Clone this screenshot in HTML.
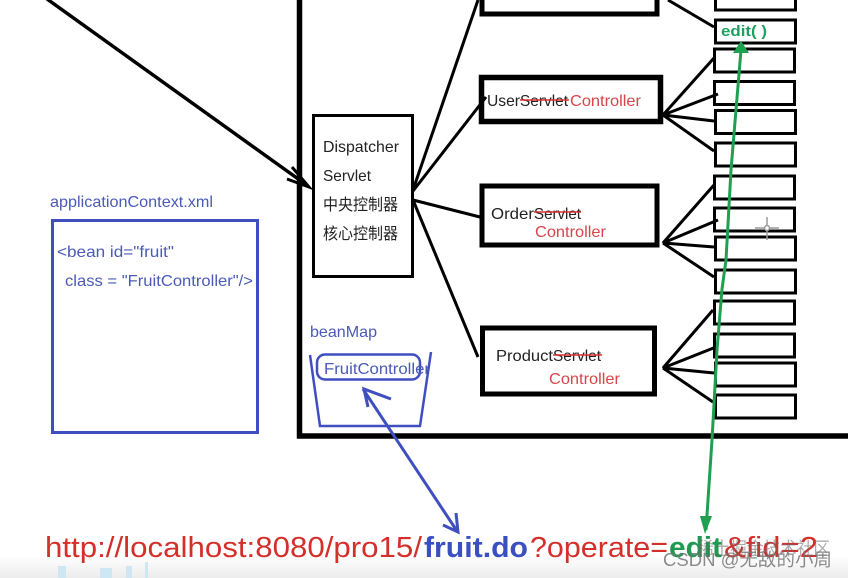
<!DOCTYPE html>
<html><head><meta charset="utf-8"><style>
html,body{margin:0;padding:0;background:#fff}
svg{display:block;filter:blur(.35px)}
text{font-family:"Liberation Sans","Noto Sans CJK SC",sans-serif}
</style></head><body>
<svg width="848" height="578" viewBox="0 0 848 578" xmlns="http://www.w3.org/2000/svg">
<defs><linearGradient id="g" x1="0" y1="0" x2="0" y2="1"><stop offset="0" stop-color="#fff"/><stop offset="1" stop-color="#ececec"/></linearGradient></defs>
<rect width="848" height="578" fill="#fff"/>
<rect y="555" width="848" height="23" fill="url(#g)"/>
<g fill="#cfe7f3"><rect x="58" y="566" width="8" height="12"/><rect x="100" y="568" width="12" height="10"/><rect x="126" y="566" width="6" height="12"/><rect x="145" y="562" width="3" height="16"/></g>

<!-- frame -->
<g stroke="#000" fill="none">
<path d="M299.500 0V436H848" stroke-width="5.500"/>
<rect x="313.500" y="115.500" width="99" height="161" stroke-width="3"/>
<rect x="482" y="-10" width="175" height="24" stroke-width="5"/>
<rect x="481.500" y="77.500" width="179" height="44" stroke-width="5.500"/>
<rect x="482" y="186" width="175" height="59" stroke-width="5"/>
<rect x="482.500" y="328" width="172" height="66" stroke-width="5"/>
<g stroke-width="3">
<rect x="715.500" y="-10" width="80" height="20"/>
<rect x="715.500" y="20" width="80" height="23"/>
<rect x="714.500" y="49" width="80" height="23"/>
<rect x="714.500" y="81.500" width="80" height="23"/>
<rect x="715.500" y="110.500" width="80" height="23"/>
<rect x="715.500" y="143" width="80" height="23"/>
<rect x="714.500" y="176" width="80" height="23"/>
<rect x="714.500" y="208" width="80" height="23"/>
<rect x="715.500" y="237" width="80" height="23"/>
<rect x="715.500" y="270" width="80" height="23"/>
<rect x="714.500" y="301" width="80" height="23"/>
<rect x="714.500" y="334" width="80" height="23"/>
<rect x="715.500" y="363" width="80" height="23"/>
<rect x="715.500" y="395" width="80" height="23"/>
</g>
<!-- incoming arrow -->
<path d="M47-1 308 186" stroke-width="3.500"/>
<path d="M292 167 309 187 287 179" stroke-width="3"/>
<!-- dispatcher fan -->
<g stroke-width="3">
<path d="M413 190 478 0"/>
<path d="M413 191 486 97"/>
<path d="M413 200 480 217"/>
<path d="M413 200 478 357"/>
<path d="M668 0 714 27"/>
<path d="M714 58 663 115 718 94M663 115 714 121M663 115 714 151"/>
<path d="M714 185 663 243 718 220M663 243 714 247M663 243 714 277"/>
<path d="M713 310 663 368 716 347M663 368 714 373M663 368 713 402"/>
</g>
</g>

<!-- blue -->
<g stroke="#3f4fc0" fill="none">
<rect x="52.500" y="220.500" width="205" height="212" stroke-width="3"/>
<path d="M310 355 320 426H420L431 352" stroke-width="2.500"/>
<rect x="317" y="354.500" width="103" height="25" rx="8" stroke-width="2.500"/>
<path d="M363 389 457 531" stroke-width="3"/>
<path d="M391 399 364 389 368 407M443 525 458 532 456 513" stroke-width="3"/>
</g>

<!-- black text -->
<g fill="#222" font-size="16">
<text x="323" y="152" textLength="76" lengthAdjust="spacingAndGlyphs">Dispatcher</text>
<text x="323" y="181" textLength="48" lengthAdjust="spacingAndGlyphs">Servlet</text>
<text x="323" y="210" textLength="75" lengthAdjust="spacingAndGlyphs">中央控制器</text>
<text x="323" y="239" textLength="75" lengthAdjust="spacingAndGlyphs">核心控制器</text>
<text x="487" y="106" textLength="33" lengthAdjust="spacingAndGlyphs">User</text>
<text x="520" y="106" textLength="48" lengthAdjust="spacingAndGlyphs">Servlet</text>
<text x="491" y="219" textLength="43" lengthAdjust="spacingAndGlyphs">Order</text>
<text x="534" y="219" textLength="47" lengthAdjust="spacingAndGlyphs">Servlet</text>
<text x="496" y="361" textLength="57" lengthAdjust="spacingAndGlyphs">Product</text>
<text x="553" y="361" textLength="48" lengthAdjust="spacingAndGlyphs">Servlet</text>
</g>
<g stroke="#d83030" stroke-width="1.500">
<path d="M520 100H569M534 212H581M553 355H602"/>
</g>
<g fill="#d8454a" font-size="16">
<text x="570" y="106" textLength="71" lengthAdjust="spacingAndGlyphs">Controller</text>
<text x="535" y="237" textLength="71" lengthAdjust="spacingAndGlyphs">Controller</text>
<text x="549" y="384" textLength="71" lengthAdjust="spacingAndGlyphs">Controller</text>
</g>

<!-- blue text -->
<g fill="#4a5ab8" font-size="16">
<text x="50" y="207" textLength="163" lengthAdjust="spacingAndGlyphs">applicationContext.xml</text>
<text x="57" y="257" textLength="117" lengthAdjust="spacingAndGlyphs">&lt;bean id="fruit"</text>
<text x="65" y="286" textLength="188" lengthAdjust="spacingAndGlyphs">class = "FruitController"/&gt;</text>
<text x="310" y="337" textLength="67" lengthAdjust="spacingAndGlyphs">beanMap</text>
<text x="324" y="374" textLength="106" lengthAdjust="spacingAndGlyphs">FruitController</text>
</g>

<!-- url -->
<g font-size="29">
<text x="45" y="557" fill="#d42f2a" textLength="377" lengthAdjust="spacingAndGlyphs">http://localhost:8080/pro15/</text>
<text x="424" y="557" fill="#3a4fc0" font-weight="bold" textLength="104" lengthAdjust="spacingAndGlyphs">fruit.do</text>
<text x="530" y="557" fill="#d42f2a" textLength="138" lengthAdjust="spacingAndGlyphs">?operate=</text>
<text x="669" y="557" fill="#1f9a50" font-weight="bold" textLength="53" lengthAdjust="spacingAndGlyphs">edit</text>
<text x="724" y="557" fill="#d42f2a" textLength="94" lengthAdjust="spacingAndGlyphs">&amp;fid=2</text>
</g>

<!-- green -->
<path d="M741 50 736 110 731 170 726 260 722 289 717 350 712 440 706 530" fill="none" stroke="#1fa050" stroke-width="3"/>
<path d="M741 41 733 53 749 53Z" fill="#1fa050"/>
<path d="M705 534 700 516 712 516Z" fill="#1fa050"/>
<text x="721" y="36" fill="#1fa060" font-size="15" font-weight="bold" textLength="46" lengthAdjust="spacingAndGlyphs">edit( )</text>

<!-- cursor -->
<g stroke="#999" stroke-width="1.500" fill="none">
<path d="M767 217V240M755 228H779"/><circle cx="767" cy="228" r="2.500" fill="#fff"/>
</g>

<!-- watermark -->
<text x="697" y="555" fill="#666" fill-opacity=".55" font-size="18" textLength="133" lengthAdjust="spacingAndGlyphs">稀土掘金技术社区</text>
<text x="663" y="566" fill="#777" fill-opacity=".85" font-size="18" textLength="169" lengthAdjust="spacingAndGlyphs">CSDN @无敌的小周</text>
</svg>
</body></html>
